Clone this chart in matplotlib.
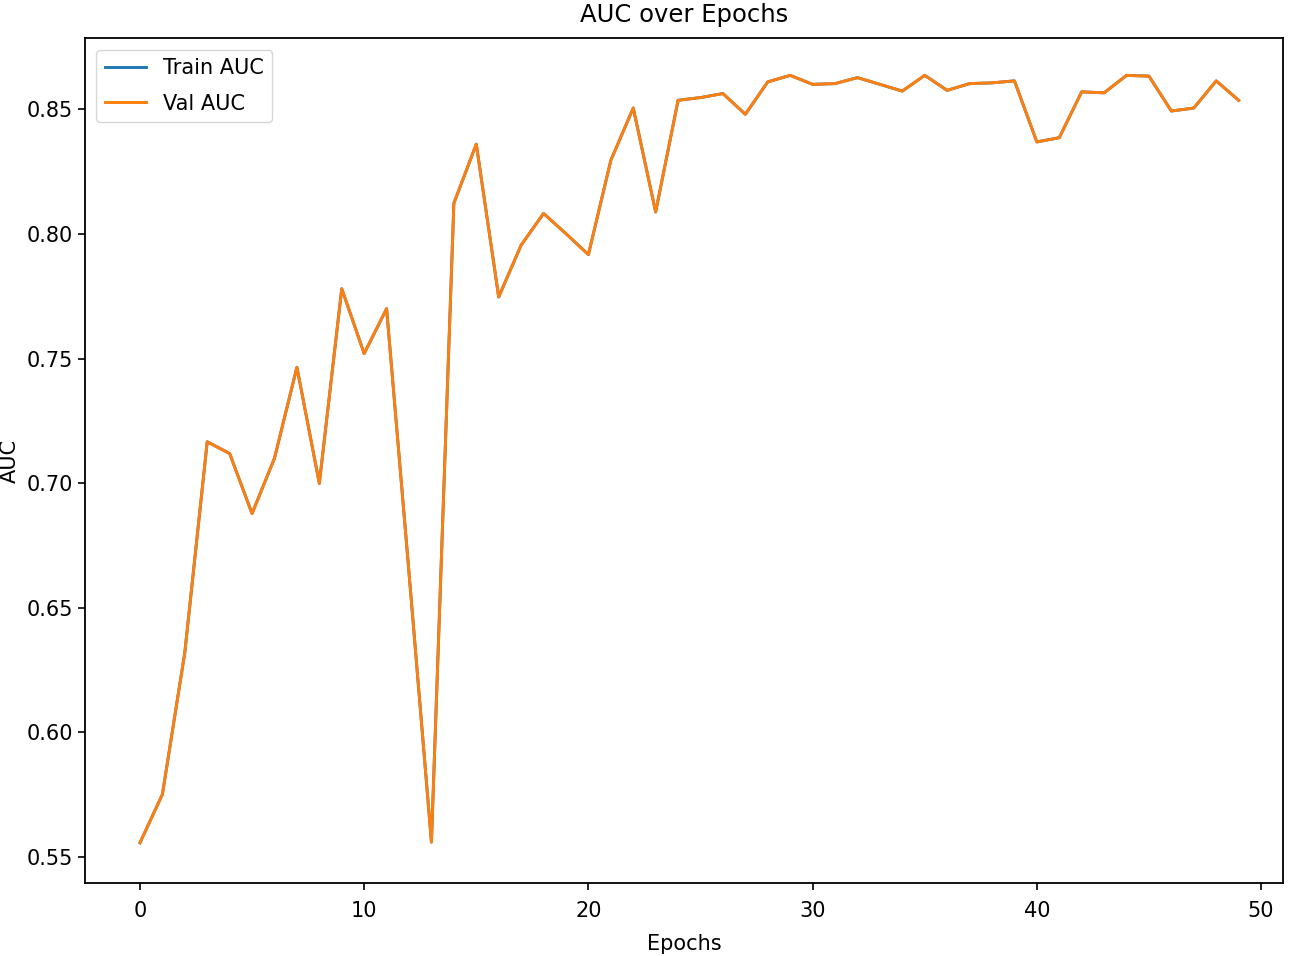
import matplotlib
matplotlib.use("Agg")
import matplotlib.pyplot as plt

epochs = list(range(50))
val_auc = [0.5557, 0.5751, 0.632, 0.7166, 0.7119, 0.6878, 0.710, 0.7465, 0.6999, 0.778,
           0.752, 0.770, 0.664, 0.556, 0.8123, 0.836, 0.7747, 0.7955, 0.8082, 0.8001,
           0.7917, 0.8295, 0.8505, 0.8088, 0.8536, 0.8547, 0.8563, 0.848, 0.861, 0.8636,
           0.860, 0.8603, 0.8627, 0.860, 0.8573, 0.8636, 0.8576, 0.8603, 0.8606, 0.8614,
           0.8369, 0.8386, 0.857, 0.8566, 0.8636, 0.8633, 0.8493, 0.8505, 0.8614, 0.8536]
train_auc = list(val_auc)

fig = plt.figure(figsize=(12.96, 9.56), dpi=100)
ax = fig.add_axes([0.0656, 0.0764, 0.9244, 0.8836])
ax.plot(epochs, train_auc, color="#1f77b4", linewidth=2.1, label="Train AUC")
ax.plot(epochs, val_auc, color="#ff7f0e", linewidth=2.1, label="Val AUC")
ax.set_xlim(-2.45, 50.98)
ax.set_ylim(0.5396, 0.8785)
ax.set_xticks([0, 10, 20, 30, 40, 50])
ax.set_yticks([0.55, 0.60, 0.65, 0.70, 0.75, 0.80, 0.85])
ax.set_yticklabels(["0.55", "0.60", "0.65", "0.70", "0.75", "0.80", "0.85"])
ax.tick_params(labelsize=15, length=5, width=1.2)
ax.tick_params(axis="x", pad=8)
for s in ax.spines.values():
    s.set_linewidth(1.3)
ax.text(0.5, 1.028, "AUC over Epochs", fontsize=17.5, ha="center", va="center",
        transform=ax.transAxes)
ax.set_xlabel("Epochs", fontsize=15, labelpad=9)
ax.set_ylabel("AUC", fontsize=15)
ax.yaxis.set_label_coords(-0.0626, 0.5)
ax.yaxis.label.set_verticalalignment("center")
ax.legend(loc="upper left", fontsize=15, handlelength=2.0, labelspacing=0.75,
          borderaxespad=0.55)
fig.savefig("out.png", dpi=100)
